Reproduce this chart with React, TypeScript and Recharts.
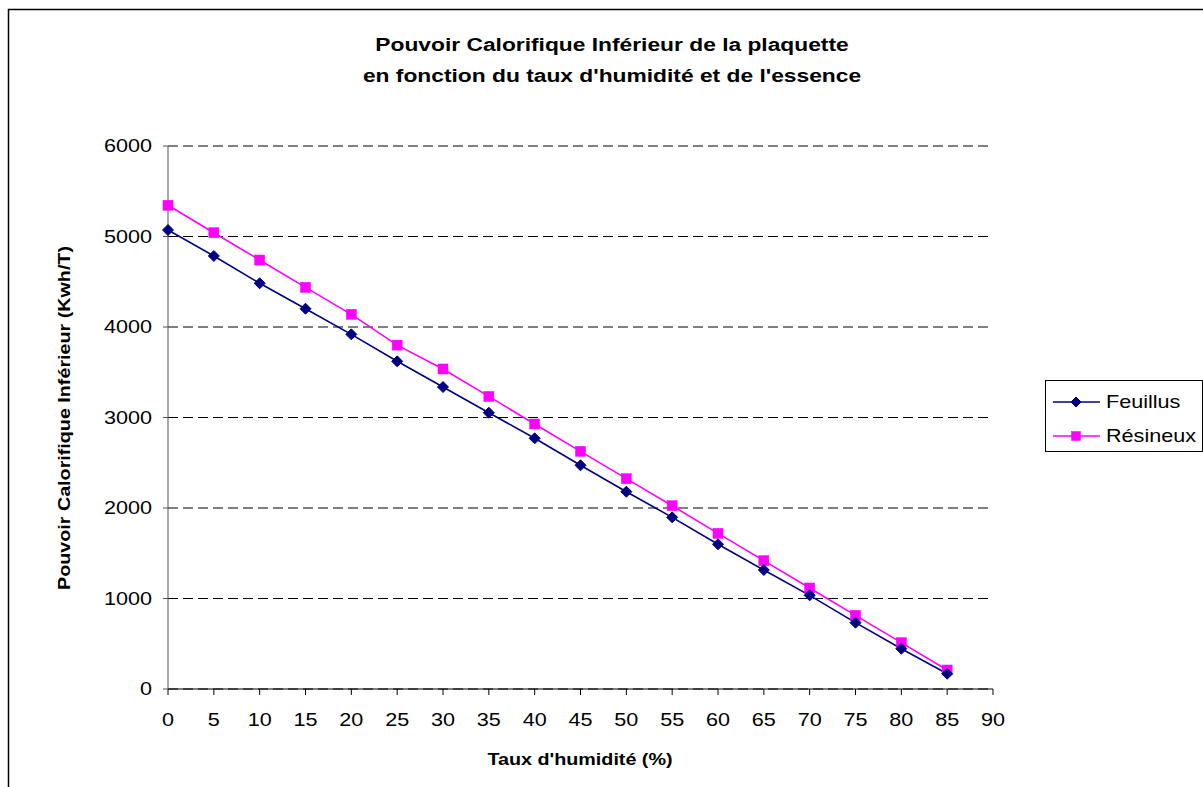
import React from 'react';
import { LineChart, Line, XAxis, YAxis, CartesianGrid } from 'recharts';

// taux d'humidité (%)
const humidite = [0, 5, 10, 15, 20, 25, 30, 35, 40, 45, 50, 55, 60, 65, 70, 75, 80, 85];
// PCI (kWh/T)
const feuillus = [5072, 4785, 4483, 4202, 3919, 3621, 3337, 3053, 2770, 2472, 2180, 1897, 1599, 1315, 1035, 733, 445, 169];
const resineux = [5345, 5042, 4740, 4438, 4140, 3800, 3536, 3233, 2928, 2626, 2324, 2025, 1720, 1418, 1116, 814, 512, 210];

const xTicks = [0, 5, 10, 15, 20, 25, 30, 35, 40, 45, 50, 55, 60, 65, 70, 75, 80, 85, 90];
const yTicks = [0, 1000, 2000, 3000, 4000, 5000, 6000];

const titleLines = ['Pouvoir Calorifique Inférieur de la plaquette', "en fonction du taux d'humidité et de l'essence"];
const xTitle = "Taux d'humidité (%)";
const yTitle = 'Pouvoir Calorifique Inférieur (Kwh/T)';
const seriesNames = ['Feuillus', 'Résineux'];

const FONT = '"Liberation Sans", Arial, sans-serif';
const NAVY = '#000080';
const MAGENTA = '#FF00FF';

const data = humidite.map((h, i) => ({ x: h, feuillus: feuillus[i], resineux: resineux[i] }));

const Diamond = ({ cx, cy, r = 5.5 }: { cx: number; cy: number; r?: number }) => (
  <polygon points={`${cx},${cy - r} ${cx + r},${cy} ${cx},${cy + r} ${cx - r},${cy}`} fill={NAVY} stroke={NAVY} />
);

const Square = ({ cx, cy, s = 5 }: { cx: number; cy: number; s?: number }) => (
  <rect x={cx - s} y={cy - s} width={s * 2} height={s * 2} fill={MAGENTA} stroke={MAGENTA} strokeWidth={0.5} />
);

const XTick = (props: any) => {
  const { x, y, payload } = props;
  return (
    <text transform={`translate(${x},${y + 29}) scale(1.2,1)`} textAnchor='middle' fontSize={18} fontFamily={FONT} fill='#000'>
      {payload.value}
    </text>
  );
};

const YTick = (props: any) => {
  const { x, y, payload } = props;
  return (
    <text transform={`translate(${x - 9},${y + 6}) scale(1.2,1)`} textAnchor='end' fontSize={18} fontFamily={FONT} fill='#000'>
      {payload.value}
    </text>
  );
};

export default function App() {
  return (
    <div style={{ position: 'absolute', left: 0, top: 0, width: 1203, height: 787, background: '#fff', overflow: 'hidden' }}>
      <LineChart width={1203} height={787} data={data} margin={{ top: 146, right: 210, bottom: 68, left: 108 }}>
        <CartesianGrid vertical={false} stroke='#000' strokeDasharray='10 5' />
        <XAxis
          dataKey='x'
          type='number'
          domain={[0, 90]}
          ticks={xTicks}
          interval={0}
          height={30}
          tickSize={6}
          stroke='#000'
          tick={<XTick />}
        />
        <YAxis
          type='number'
          domain={[0, 6000]}
          ticks={yTicks}
          interval={0}
          width={60}
          tickSize={5}
          stroke='#555'
          tick={<YTick />}
        />
        <Line
          dataKey='resineux'
          stroke={MAGENTA}
          strokeWidth={1.6}
          isAnimationActive={false}
          dot={(p: any) => <Square key={`r-${p.index}`} cx={p.cx} cy={p.cy} />}
        />
        <Line
          dataKey='feuillus'
          stroke={NAVY}
          strokeWidth={1.6}
          isAnimationActive={false}
          dot={(p: any) => <Diamond key={`f-${p.index}`} cx={p.cx} cy={p.cy} />}
        />
      </LineChart>
      <svg width={1203} height={787} style={{ position: 'absolute', left: 0, top: 0, pointerEvents: 'none' }}>
        {/* cadre du graphique */}
        <rect x={8.5} y={9.5} width={1300} height={900} fill='none' stroke='#000' strokeWidth={1.5} />
        {titleLines.map((t, i) => (
          <text
            key={t}
            transform={`translate(612,${51 + i * 31}) scale(1.2,1)`}
            textAnchor='middle'
            fontSize={19}
            fontWeight='bold'
            fontFamily={FONT}
          >
            {t}
          </text>
        ))}
        <text transform='translate(580,765) scale(1.16,1)' textAnchor='middle' fontSize={17} fontWeight='bold' fontFamily={FONT}>
          {xTitle}
        </text>
        <text transform='translate(70,418) rotate(-90) scale(1.16,1)' textAnchor='middle' fontSize={17} fontWeight='bold' fontFamily={FONT}>
          {yTitle}
        </text>
        {/* légende */}
        <rect x={1045.5} y={380.5} width={157} height={71} fill='#fff' stroke='#000' strokeWidth={1} />
        <line x1={1053} y1={402} x2={1100} y2={402} stroke={NAVY} strokeWidth={1.6} />
        <Diamond cx={1076} cy={402} r={5} />
        <text transform='translate(1106,408) scale(1.2,1)' fontSize={18} fontFamily={FONT}>
          {seriesNames[0]}
        </text>
        <line x1={1053} y1={436} x2={1100} y2={436} stroke={MAGENTA} strokeWidth={1.6} />
        <Square cx={1076} cy={436} s={4.5} />
        <text transform='translate(1106,442) scale(1.2,1)' fontSize={18} fontFamily={FONT}>
          {seriesNames[1]}
        </text>
      </svg>
    </div>
  );
}
